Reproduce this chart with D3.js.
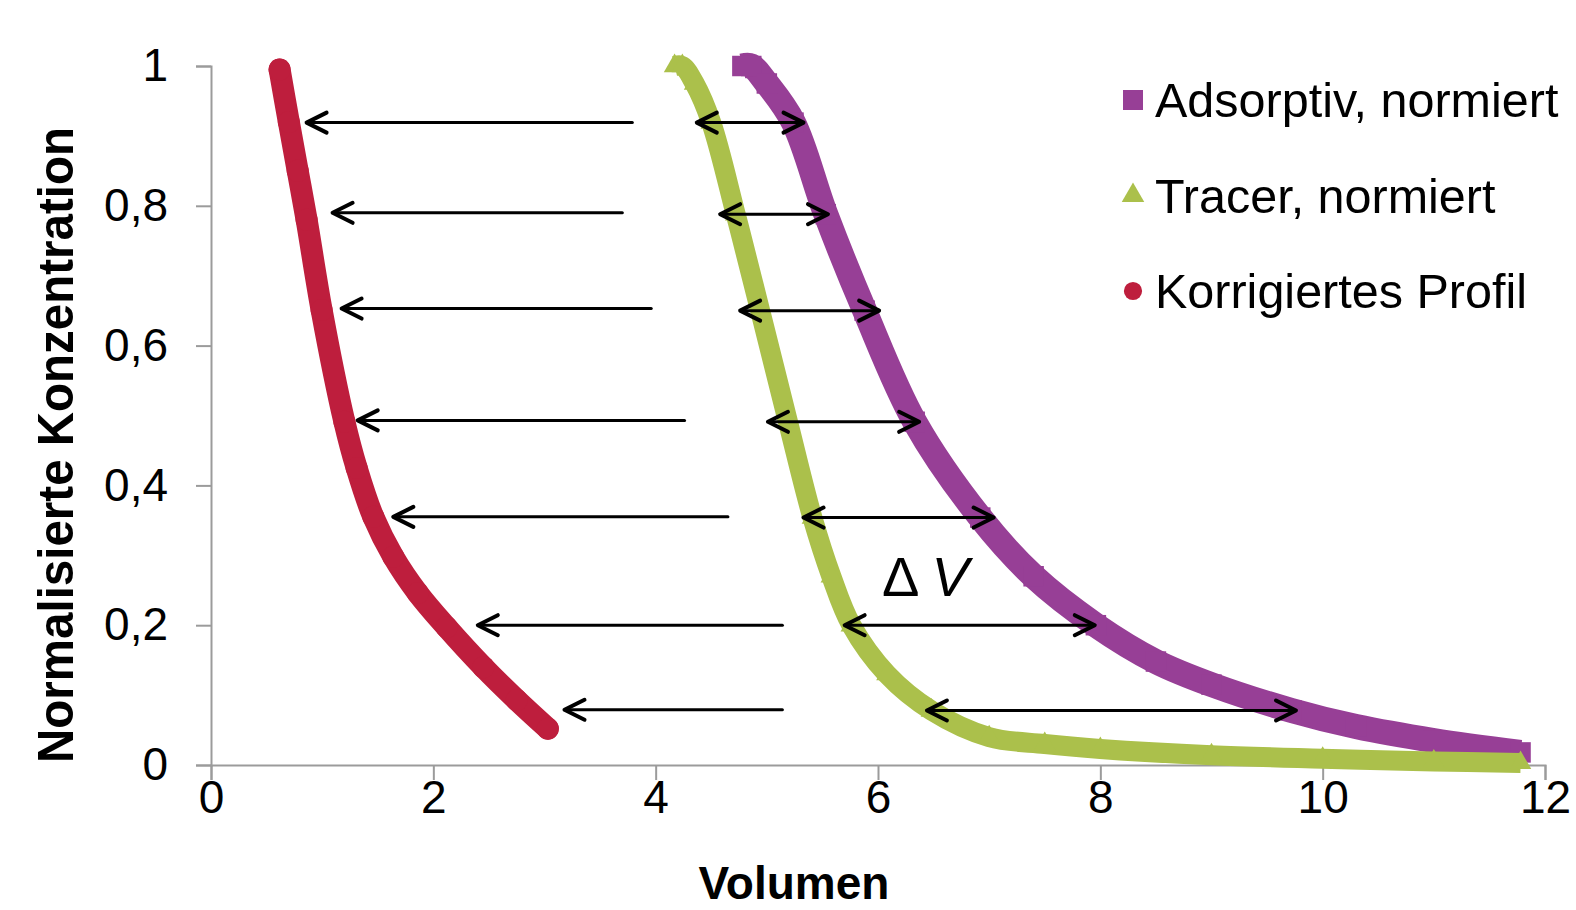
<!DOCTYPE html>
<html>
<head>
<meta charset="utf-8">
<script src="https://cdn.jsdelivr.net/npm/d3@7"></script>
<style>
  body { margin: 0; background: #fff; }
  svg { display: block; font-family: "Liberation Sans", Arial, sans-serif; }
</style>
</head>
<body>
<div id="chart"></div>
<script>
// values
const adsorptivV = [4.78, 4.86, 5.00, 5.24, 5.53, 5.88, 6.33, 6.92, 7.40, 7.96, 8.50, 9.00, 9.72, 10.30, 11.00, 11.78];
const adsorptivC = [1.0, 1.0, 0.975, 0.919, 0.788, 0.650, 0.491, 0.354, 0.27, 0.200, 0.148, 0.115, 0.078, 0.055, 0.035, 0.018];

const tracerV = [4.17, 4.24, 4.35, 4.50, 4.72, 4.94, 5.19, 5.41, 5.58, 5.76, 6.08, 6.48, 7.0, 7.5, 8.0, 9.0, 10.0, 11.0, 11.78];
const tracerC = [1.0, 1.0, 0.975, 0.919, 0.788, 0.650, 0.491, 0.354, 0.27, 0.200, 0.13, 0.078, 0.04, 0.03, 0.023, 0.014, 0.009, 0.005, 0.003];

const profilV = [0.617, 0.70, 0.78, 0.86, 0.995, 1.20, 1.31, 1.46, 1.64, 1.86, 2.12, 2.45, 2.75, 3.03];
const profilC = [0.995, 0.92, 0.85, 0.78, 0.651, 0.491, 0.425, 0.355, 0.298, 0.246, 0.197, 0.140, 0.093, 0.052];

// arrows shifting the profile to the left
const shiftY = [0.919, 0.790, 0.653, 0.493, 0.355, 0.200, 0.079];
const shiftFrom = [3.79, 3.70, 3.96, 4.26, 4.65, 5.14, 5.14];
const shiftTo = [0.86, 1.094, 1.175, 1.32, 1.64, 2.40, 3.18];

// double arrows = delta V between tracer and adsorptiv
const dvY = [0.919, 0.788, 0.650, 0.491, 0.354, 0.200, 0.078];
const dvFrom = [4.37, 4.58, 4.76, 5.01, 5.33, 5.70, 6.44];
const dvTo = [5.33, 5.55, 6.01, 6.37, 7.04, 7.95, 9.76];

const xTicks = [0, 2, 4, 6, 8, 10, 12];
const yTicks = [0, 0.2, 0.4, 0.6, 0.8, 1];
const yTickLabels = ["0", "0,2", "0,4", "0,6", "0,8", "1"];

const seriesNames = ["Adsorptiv, normiert", "Tracer, normiert", "Korrigiertes Profil"];

const width = 1576,
  height = 910;

const svg = d3.select("#chart").append("svg").attr("width", width).attr("height", height);

const x = d3.scaleLinear().domain([0, 12]).range([211, 1545]);
const y = d3.scaleLinear().domain([0, 1]).range([765, 66]);

// axes
const gx = svg
  .append("g")
  .attr("transform", `translate(0,${y(0)})`)
  .call(d3.axisBottom(x).tickValues(xTicks).tickSize(15).tickPadding(0));
const gy = svg
  .append("g")
  .attr("transform", `translate(${x(0)},0)`)
  .call(
    d3
      .axisLeft(y)
      .tickValues(yTicks)
      .tickSize(15)
      .tickPadding(28)
      .tickFormat((d, i) => yTickLabels[i])
  );

[gx, gy].forEach(g => {
  g.attr("font-family", null).attr("font-size", null);
  g.selectAll("path, line").attr("stroke", "#9b9b9b").attr("stroke-width", 2);
  g.selectAll("text").attr("fill", "#000").style("font-size", "46px");
});

// axis titles
svg
  .append("text")
  .attr("x", 794)
  .attr("y", 899)
  .attr("text-anchor", "middle")
  .style("font-size", "46px")
  .style("font-weight", "bold")
  .text("Volumen");

svg
  .append("text")
  .attr("transform", "translate(73,445) rotate(-90)")
  .attr("text-anchor", "middle")
  .attr("textLength", 636)
  .attr("lengthAdjust", "spacingAndGlyphs")
  .style("font-size", "50px")
  .style("font-weight", "bold")
  .text("Normalisierte Konzentration");

// series
const series = [
  { name: seriesNames[0], v: adsorptivV, c: adsorptivC, color: "#973f96", sym: d3.symbolSquare, size: 420, width: 25, cap: "butt" },
  { name: seriesNames[1], v: tracerV, c: tracerC, color: "#abc04b", sym: d3.symbolTriangle, size: 200, width: 20, cap: "butt" },
  { name: seriesNames[2], v: profilV, c: profilC, color: "#be1e3d", sym: d3.symbolCircle, size: 380, width: 22, cap: "round" }
];

const line = d3
  .line()
  .x(d => x(d[0]))
  .y(d => y(d[1]))
  .curve(d3.curveCatmullRom.alpha(0.5));

series.forEach(s => {
  const pts = s.v.map((v, i) => [v, s.c[i]]);
  const g = svg.append("g");
  g.append("path")
    .attr("d", line(pts))
    .attr("fill", "none")
    .attr("stroke", s.color)
    .attr("stroke-width", s.width)
    .attr("stroke-linecap", s.cap)
    .attr("stroke-linejoin", "round");
  g.selectAll("path.mark")
    .data(pts)
    .join("path")
    .attr("class", "mark")
    .attr("transform", d => `translate(${x(d[0])},${y(d[1])})`)
    .attr("d", d3.symbol(s.sym, s.size))
    .attr("fill", s.color);
});

// arrows
const arrows = svg.append("g").attr("stroke", "#000").attr("fill", "none").attr("stroke-linecap", "round").attr("stroke-linejoin", "round");

const head = (tipX, py, dir) =>
  `M${tipX + dir * 20},${py - 10}L${tipX},${py}L${tipX + dir * 20},${py + 10}`;

shiftY.forEach((yv, i) => {
  const py = y(yv);
  arrows.append("line").attr("x1", x(shiftFrom[i])).attr("x2", x(shiftTo[i]) + 2).attr("y1", py).attr("y2", py).attr("stroke-width", 3);
  arrows.append("path").attr("d", head(x(shiftTo[i]), py, 1)).attr("stroke-width", 4);
});

dvY.forEach((yv, i) => {
  const py = y(yv);
  arrows.append("line").attr("x1", x(dvFrom[i]) + 2).attr("x2", x(dvTo[i]) - 2).attr("y1", py).attr("y2", py).attr("stroke-width", 3);
  arrows.append("path").attr("d", head(x(dvFrom[i]), py, 1)).attr("stroke-width", 4);
  arrows.append("path").attr("d", head(x(dvTo[i]), py, -1)).attr("stroke-width", 4);
});

// delta V label
const dv = svg.append("text").attr("x", 882).attr("y", 596).style("font-size", "56px");
dv.append("tspan").text("Δ");
dv.append("tspan").attr("dx", 12).style("font-style", "italic").text("V");

// legend
const legend = svg
  .append("g")
  .selectAll("g")
  .data(series)
  .join("g")
  .attr("transform", (d, i) => `translate(1133,${100 + i * 95.5})`);

legend
  .append("path")
  .attr("d", (d, i) => d3.symbol(d.sym, i === 2 ? 260 : i === 1 ? 220 : 400)())
  .attr("fill", d => d.color);

legend
  .append("text")
  .attr("x", 22)
  .attr("y", 17)
  .style("font-size", "48.5px")
  .text(d => d.name);
</script>
</body>
</html>
